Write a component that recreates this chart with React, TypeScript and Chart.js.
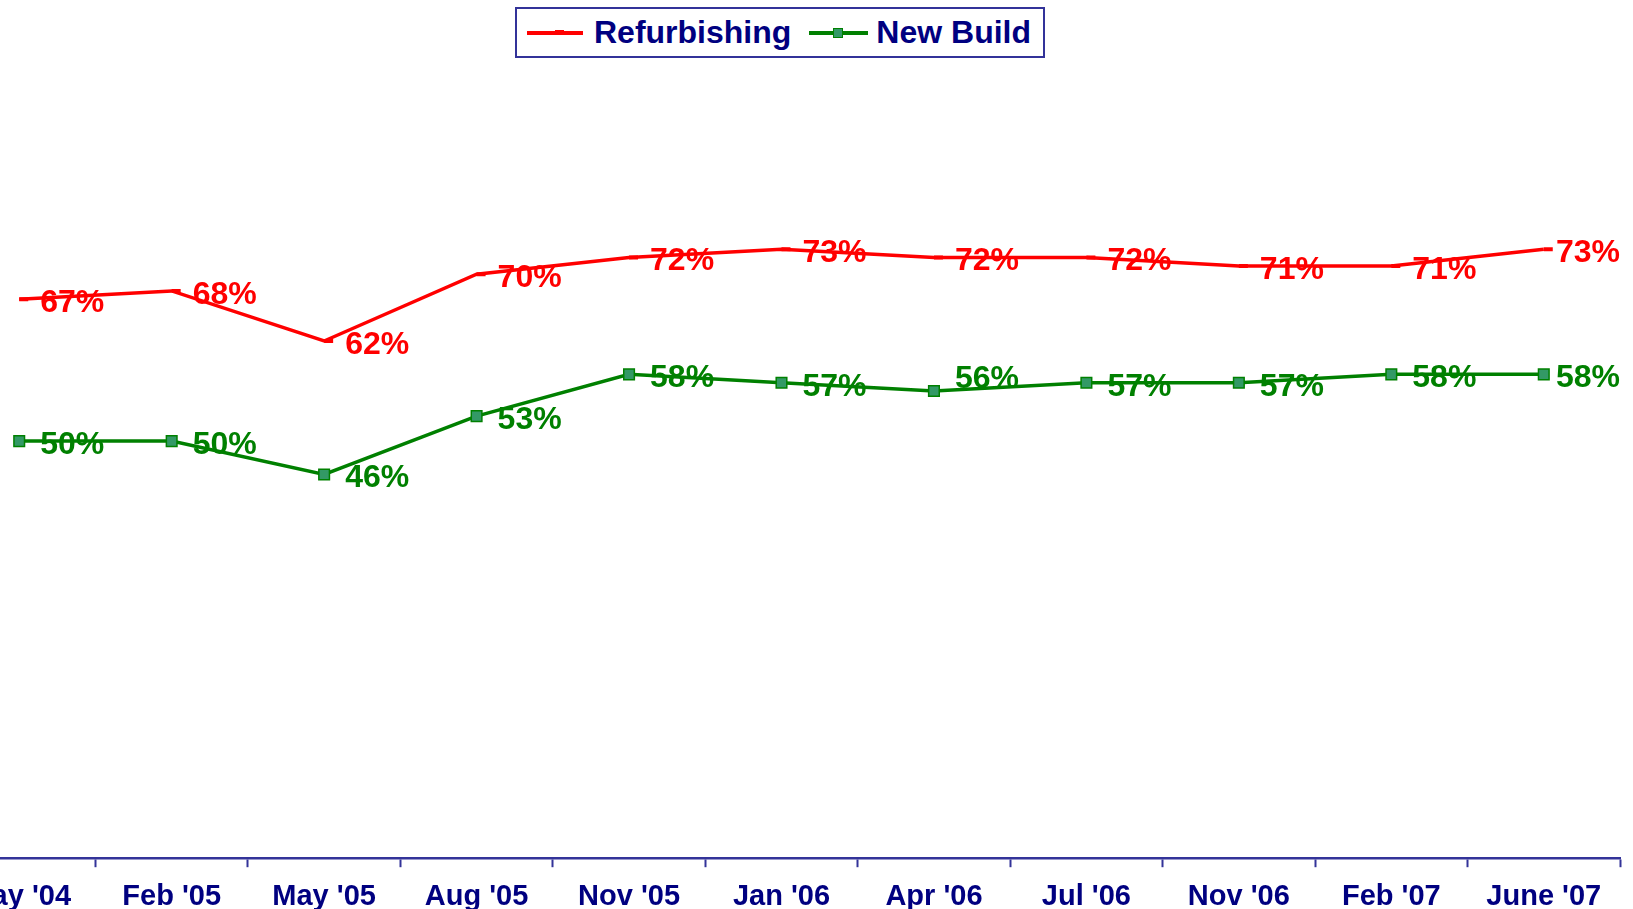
import React, { useEffect, useRef } from "react";
import { Chart, registerables } from "chart.js";

Chart.register(...registerables);

const categories = [
  "May '04", "Feb '05", "May '05", "Aug '05", "Nov '05", "Jan '06",
  "Apr '06", "Jul '06", "Nov '06", "Feb '07", "June '07",
];
const refurbishing = [67, 68, 62, 70, 72, 73, 72, 72, 71, 71, 73];
const newBuild = [50, 50, 46, 53, 58, 57, 56, 57, 57, 58, 58];

const FONT = '"Liberation Sans", Arial, Helvetica, sans-serif';
const NAVY = "#000080";
const AXIS = "#333399";
const RED = "#FF0000";
const GREEN = "#008000";

const valueLabels = {
  id: "valueLabels",
  afterDatasetsDraw(chart: any) {
    const ctx = chart.ctx;
    chart.data.datasets.forEach((ds: any, i: number) => {
      const meta = chart.getDatasetMeta(i);
      const shifts = ds.labelShiftY || {};
      ctx.save();
      ctx.font = `bold 32px ${FONT}`;
      ctx.fillStyle = ds.labelColor;
      ctx.textBaseline = "middle";
      ctx.textAlign = "left";
      meta.data.forEach((pt: any, j: number) => {
        const text = `${ds.data[j]}%`;
        const w = ctx.measureText(text).width;
        let x = pt.x + 21;
        if (x + w > chart.chartArea.right) x = chart.chartArea.right - w;
        const y = pt.y + 4 + (shifts[j] || 0);
        ctx.fillText(text, x, y);
      });
      ctx.restore();
    });
  },
};

export default function App() {
  const ref = useRef<HTMLCanvasElement | null>(null);

  useEffect(() => {
    if (!ref.current) return;
    const chart = new Chart(ref.current, {
      type: "line",
      data: {
        labels: categories,
        datasets: [
          {
            label: "Refurbishing",
            data: refurbishing,
            borderColor: RED,
            backgroundColor: RED,
            borderWidth: 3.5,
            tension: 0,
            pointStyle: "dash",
            pointRadius: 9,
            pointBorderWidth: 4,
            pointBorderColor: RED,
            pointBackgroundColor: RED,
            labelColor: RED,
          } as any,
          {
            label: "New Build",
            data: newBuild,
            borderColor: GREEN,
            backgroundColor: GREEN,
            borderWidth: 3.5,
            tension: 0,
            pointStyle: "rect",
            pointRadius: 7.5,
            pointBorderWidth: 1.5,
            pointBorderColor: GREEN,
            pointBackgroundColor: "#339966",
            labelColor: GREEN,
            labelShiftY: { 6: -16 },
          } as any,
        ],
      },
      options: {
        animation: false,
        responsive: false,
        maintainAspectRatio: false,
        devicePixelRatio: 1,
        layout: { padding: { left: 3, right: 12, top: 24, bottom: 0 } },
        plugins: {
          legend: { display: false },
          tooltip: { enabled: false },
        },
        scales: {
          x: {
            offset: true,
            grid: {
              offset: true,
              drawOnChartArea: false,
              drawTicks: true,
              tickLength: 9,
              tickWidth: 2,
              tickColor: AXIS,
              color: AXIS,
            },
            border: { display: true, color: AXIS, width: 2.5 },
            ticks: {
              color: NAVY,
              font: { family: FONT, size: 29, weight: "bold" },
              padding: 12,
              maxRotation: 0,
              autoSkip: false,
            },
          },
          y: {
            display: false,
            min: 0,
            max: 100,
          },
        },
      },
      plugins: [valueLabels],
    });
    return () => chart.destroy();
  }, []);

  return (
    <div
      style={{
        position: "fixed",
        left: 0,
        top: 0,
        width: 1633,
        height: 909,
        overflow: "hidden",
        background: "#ffffff",
      }}
    >
      <div style={{ position: "absolute", left: -70, top: 0, width: 1703, height: 926 }}>
        <canvas ref={ref} width={1703} height={926} style={{ width: 1703, height: 926, display: "block" }} />
      </div>
      <div
        style={{
          position: "absolute",
          left: 515,
          top: 7,
          width: 530,
          height: 51,
          boxSizing: "border-box",
          border: `2px solid ${AXIS}`,
          background: "#ffffff",
          display: "flex",
          alignItems: "center",
          fontFamily: FONT,
          fontWeight: "bold",
          fontSize: 32,
          color: NAVY,
          whiteSpace: "nowrap",
        }}
      >
        <span style={{ position: "relative", width: 56, height: 4, background: RED, marginLeft: 10, display: "inline-block" }}>
          <span style={{ position: "absolute", left: 28, top: -1, width: 9, height: 5, background: RED }} />
        </span>
        <span style={{ marginLeft: 11 }}>Refurbishing</span>
        <span style={{ position: "relative", width: 59, height: 4, background: GREEN, marginLeft: 18, display: "inline-block" }}>
          <span
            style={{
              position: "absolute",
              left: 24,
              top: -3,
              width: 10,
              height: 10,
              boxSizing: "border-box",
              background: "#339966",
              border: `1.5px solid ${GREEN}`,
            }}
          />
        </span>
        <span style={{ marginLeft: 8 }}>New Build</span>
      </div>
    </div>
  );
}
